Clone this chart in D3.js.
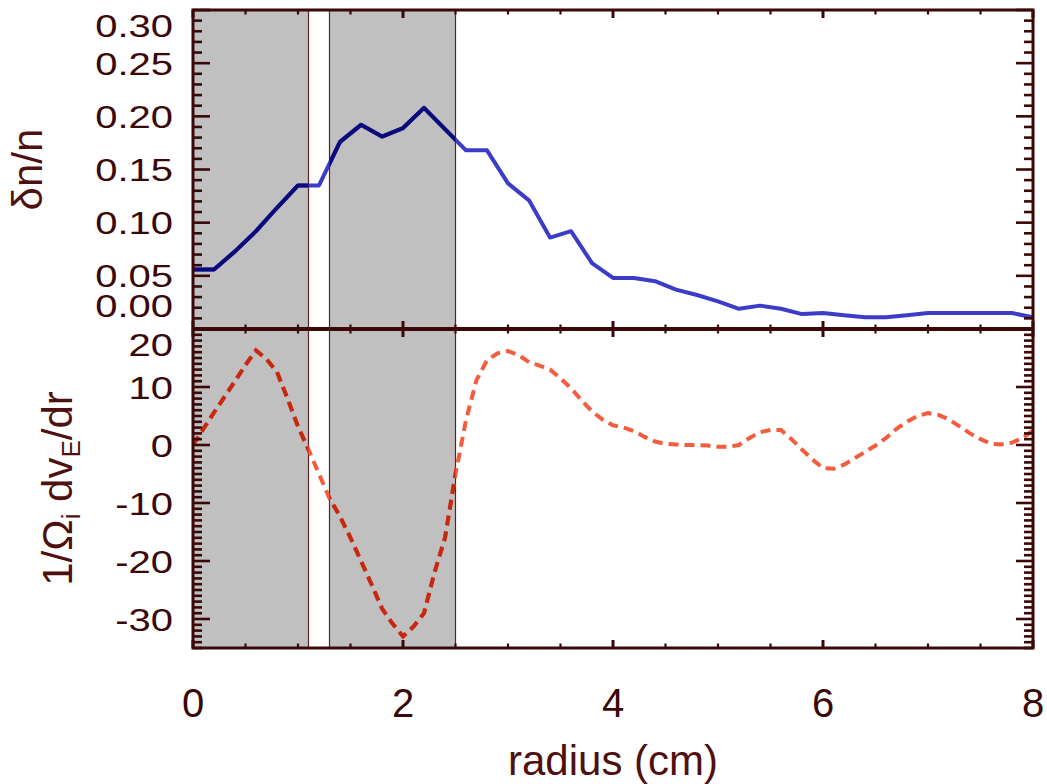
<!DOCTYPE html>
<html><head><meta charset="utf-8">
<script src="https://cdn.jsdelivr.net/npm/d3@7"></script>
<style>body{margin:0;background:#fff}svg{display:block}</style>
</head><body>
<svg id="c" width="1047" height="784"></svg>
<script>
// ---- data ----
const radiusTop = [0,0.2,0.4,0.6,0.8,1.0,1.2,1.4,1.6,1.8,2.0,2.2,2.4,2.6,2.8,3.0,3.2,3.4,3.6,3.8,4.0,4.2,4.4,4.6,4.8,5.0,5.2,5.4,5.6,5.8,6.0,6.2,6.4,6.6,6.8,7.0,7.2,7.4,7.6,7.8,8.0];
const densityFluct = [0.056,0.056,0.073,0.092,0.114,0.135,0.135,0.176,0.192,0.181,0.189,0.208,0.188,0.168,0.168,0.137,0.121,0.086,0.092,0.062,0.048,0.048,0.045,0.037,0.032,0.026,0.019,0.022,0.019,0.014,0.015,0.013,0.011,0.011,0.013,0.015,0.015,0.015,0.015,0.015,0.011];
const radiusBot = [0,0.1,0.2,0.3,0.4,0.5,0.6,0.7,0.8,0.9,1.0,1.1,1.2,1.3,1.4,1.5,1.6,1.7,1.8,1.9,2.0,2.1,2.2,2.3,2.4,2.5,2.6,2.7,2.8,2.9,3.0,3.1,3.2,3.3,3.4,3.5,3.6,3.7,3.8,3.9,4.0,4.1,4.2,4.3,4.4,4.5,4.6,4.7,4.8,4.9,5.0,5.1,5.2,5.3,5.4,5.5,5.6,5.7,5.8,5.9,6.0,6.1,6.2,6.3,6.4,6.5,6.6,6.7,6.8,6.9,7.0,7.1,7.2,7.3,7.4,7.5,7.6,7.7,7.8,7.9,8.0];
const shear = [0,2.8,5.6,8.3,11,13.8,16.3,14.8,12.6,8,3.2,-0.8,-5,-9.2,-12.3,-16,-20,-24,-28.2,-30.8,-33,-31.3,-29,-22,-16,-5,4.3,11.2,14.6,15.8,16.2,15.5,14.3,13.7,13,11.5,9.8,7.7,5.8,4.4,3.4,3.0,2.4,1.4,0.6,0.2,0.1,0,0,-0.1,-0.3,-0.3,0,1.2,2.2,2.6,2.6,1.0,-0.8,-2.5,-4,-4.1,-3.4,-2.3,-1.2,-0.1,1.2,2.8,4,5,5.5,5.2,4.4,3.2,2.0,1.0,0.2,0.1,0.4,1.2,2.5];
const shadeStart = [0, 1.3];
const shadeEnd = [1.1, 2.5];
const xTickValues = [0,2,4,6,8];
const xTickLabels = ["0","2","4","6","8"];
const yTopTickValues = [0,0.05,0.10,0.15,0.20,0.25,0.30];
const yTopTickLabels = ["0.00","0.05","0.10","0.15","0.20","0.25","0.30"];
const yBotTickValues = [-30,-20,-10,0,10,20];
const yBotTickLabels = ["-30","-20","-10","0","10","20"];

// ---- layout ----
const L = 193, R = 1033, T = 10, M = 329, B = 648;
const axisCol = "#3a0808", titleCol = "#4f1010";
const font = "'Liberation Sans', Arial, Helvetica, sans-serif";
const svg = d3.select("#c");
const x = d3.scaleLinear().domain([0,8]).range([L,R]);
const yT = d3.scaleLinear().domain([0,0.30]).range([M,T]);
const yB = d3.scaleLinear().domain([-35,20]).range([B,M]);

const defs = svg.append("defs");
defs.append("clipPath").attr("id","clipTop").append("rect").attr("x",L).attr("y",T).attr("width",R-L).attr("height",M-T);
defs.append("clipPath").attr("id","clipBot").append("rect").attr("x",L).attr("y",M).attr("width",R-L).attr("height",B-M);
const shades = shadeStart.map((s,i)=>({s, e: shadeEnd[i]}));
const ct = defs.append("clipPath").attr("id","shadeTop");
ct.selectAll("rect").data(shades).join("rect").attr("x",d=>x(d.s)).attr("width",d=>x(d.e)-x(d.s)).attr("y",T).attr("height",M-T);
const cb = defs.append("clipPath").attr("id","shadeBot");
cb.selectAll("rect").data(shades).join("rect").attr("x",d=>x(d.s)).attr("width",d=>x(d.e)-x(d.s)).attr("y",M).attr("height",B-M);

// shaded regions
svg.append("g").selectAll("rect").data(shades).join("rect")
  .attr("x",d=>x(d.s)).attr("width",d=>x(d.e)-x(d.s)).attr("y",T).attr("height",B-T)
  .attr("fill","#c0c0c0");
svg.append("g").selectAll("line").data(shades.flatMap(d=>[d.s,d.e]).filter(v=>v>0)).join("line")
  .attr("x1",d=>x(d)).attr("x2",d=>x(d)).attr("y1",T).attr("y2",B)
  .attr("stroke","#5a2222").attr("stroke-width",1.2);

// top line
const topData = radiusTop.map((r,i)=>[r,densityFluct[i]]);
const lineT = d3.line().x(d=>x(d[0])).y(d=>yT(d[1]));
const gT = svg.append("g").attr("clip-path","url(#clipTop)");
gT.append("path").attr("d",lineT(topData)).attr("fill","none").attr("stroke","#3c3cc8").attr("stroke-width",4).attr("stroke-linejoin","round");
gT.append("path").attr("d",lineT(topData)).attr("fill","none").attr("stroke","#0a0a7a").attr("stroke-width",4).attr("stroke-linejoin","round").attr("clip-path","url(#shadeTop)");

// bottom dashed line
const botData = radiusBot.map((r,i)=>[r,shear[i]]);
const lineB = d3.line().x(d=>x(d[0])).y(d=>yB(d[1]));
const gB = svg.append("g").attr("clip-path","url(#clipBot)");
gB.append("path").attr("d",lineB(botData)).attr("fill","none").attr("stroke","#f45c3e").attr("stroke-width",4).attr("stroke-dasharray","10,6");
gB.append("path").attr("d",lineB(botData)).attr("fill","none").attr("stroke","#c42a12").attr("stroke-width",4).attr("stroke-dasharray","10,6").attr("clip-path","url(#shadeBot)");

// ticks
const tickG = svg.append("g").attr("stroke",axisCol);
function yTicks(scale, minorStep, lo, hi, majors){
  const minors = d3.range(lo, hi+minorStep/2, minorStep).map(v=>+v.toFixed(4));
  const isMajor = v => majors.some(m=>Math.abs(m-v)<1e-6);
  minors.forEach(v=>{
    const len = isMajor(v) ? 17 : 9;
    const yy = scale(v);
    tickG.append("line").attr("x1",L).attr("x2",L+len).attr("y1",yy).attr("y2",yy).attr("stroke-width",2.6);
    tickG.append("line").attr("x1",R).attr("x2",R-len).attr("y1",yy).attr("y2",yy).attr("stroke-width",2.6);
  });
}
yTicks(yT, 0.01, 0, 0.30, yTopTickValues);
yTicks(yB, 1, -35, 20, yBotTickValues);
const xMinor = d3.range(0, 8.01, 0.5);
xMinor.forEach(v=>{
  const major = xTickValues.includes(v);
  const len = major ? 8 : 4.5, w = major ? 3 : 2.2;
  const xx = x(v);
  [[T,1],[M,-1],[M,1],[B,-1]].forEach(([y0,dir])=>{
    tickG.append("line").attr("x1",xx).attr("x2",xx).attr("y1",y0).attr("y2",y0+dir*len).attr("stroke-width",w);
  });
});

// frame
svg.append("rect").attr("x",L).attr("y",T).attr("width",R-L).attr("height",B-T).attr("fill","none").attr("stroke",axisCol).attr("stroke-width",3);
svg.append("line").attr("x1",L).attr("x2",R).attr("y1",M).attr("y2",M).attr("stroke",axisCol).attr("stroke-width",4);

// y tick labels
function yLabels(scale, vals, labels, top, bottom){
  svg.append("g").selectAll("text").data(vals).join("text")
    .attr("transform",(d)=>{
      const cy = Math.max(top+15, Math.min(bottom-24, scale(d)));
      return `translate(173,${cy+11.5}) scale(1,0.8)`;
    })
    .attr("text-anchor","end").attr("font-family",font).attr("font-size",40).attr("fill",axisCol)
    .text((d,i)=>labels[i]);
}
yLabels(yT, yTopTickValues, yTopTickLabels, T, M);
yLabels(yB, yBotTickValues, yBotTickLabels, M, B);

// x tick labels
svg.append("g").selectAll("text").data(xTickValues).join("text")
  .attr("x",d=>x(d)).attr("y",717).attr("text-anchor","middle")
  .attr("font-family",font).attr("font-size",40).attr("fill",axisCol)
  .text((d,i)=>xTickLabels[i]);

// titles
svg.append("text").attr("x",(L+R)/2).attr("y",775).attr("text-anchor","middle")
  .attr("font-family",font).attr("font-size",42).attr("fill",titleCol).text("radius (cm)");
svg.append("text").attr("transform",`translate(42,${(T+M)/2}) rotate(-90)`).attr("text-anchor","middle")
  .attr("font-family",font).attr("font-size",42).attr("fill",titleCol).text("δn/n");
const t2 = svg.append("text").attr("transform",`translate(72,${(M+B)/2}) rotate(-90)`).attr("text-anchor","middle")
  .attr("font-family",font).attr("font-size",42).attr("fill",titleCol);
t2.append("tspan").text("1/Ω");
t2.append("tspan").attr("font-size",26).attr("dy",8).text("i");
t2.append("tspan").attr("dy",-8).text(" dv");
t2.append("tspan").attr("font-size",26).attr("dy",8).text("E");
t2.append("tspan").attr("dy",-8).text("/dr");
</script>
</body></html>
